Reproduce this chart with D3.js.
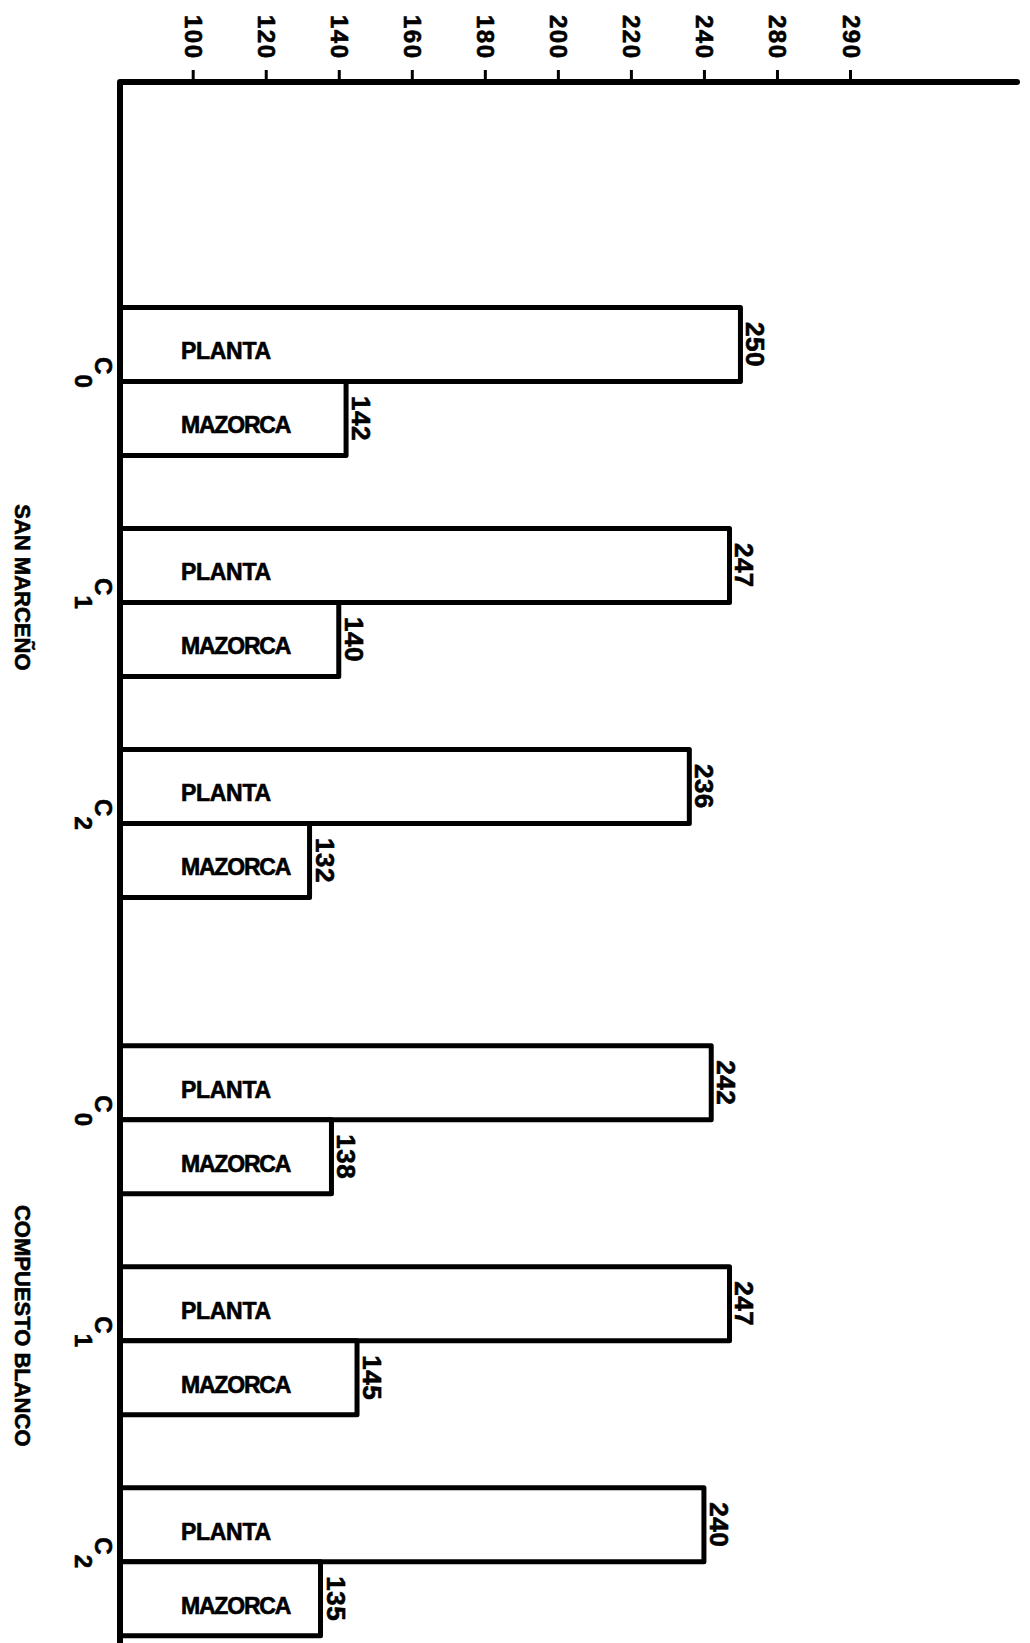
<!DOCTYPE html>
<html>
<head>
<meta charset="utf-8">
<script src="https://cdn.jsdelivr.net/npm/d3@7/dist/d3.min.js"></script>
<style>
  html, body { margin: 0; padding: 0; background: #fff; }
  svg { display: block; }
  text { font-family: "Liberation Sans", Arial, sans-serif; font-weight: bold; fill: #000; stroke: #000; stroke-width: 0.6px; }
</style>
</head>
<body>
<svg id="chart" width="1030" height="1643"></svg>
<script>
// ---- data ----
const groups = ["SAN MARCEÑO", "COMPUESTO BLANCO"];
const levels = ["0", "1", "2"];              // C0, C1, C2
const series = ["PLANTA", "MAZORCA"];
const plantaValues  = [250, 247, 236, 242, 247, 240];
const mazorcaValues = [142, 140, 132, 138, 145, 135];
const tickValues = [100, 120, 140, 160, 180, 200, 220, 240, 260, 280];
const tickLabels = ["100", "120", "140", "160", "180", "200", "220", "240", "280", "290"];

// ---- layout ----
const W = 1030, H = 1643;
const axisY = 82, axisX = 120;
const svg = d3.select("#chart");

const x = d3.scaleLinear().domain([100, 280]).range([192.7, 850]);
const xBase = x(80);  // axis origin

const gScale = d3.scaleBand().domain(groups).range([270.9, 1672.2]).paddingInner(0.102).paddingOuter(0);
const lScale = d3.scaleBand().domain(levels).range([0, gScale.bandwidth()]);
const sScale = d3.scaleBand().domain(series).range([0, lScale.bandwidth()]).paddingInner(0).paddingOuter(0.493);

const rows = [];
groups.forEach((g, gi) => {
  levels.forEach((l, li) => {
    const idx = gi * levels.length + li;
    rows.push({group: g, level: l, series: "PLANTA", value: plantaValues[idx]});
    rows.push({group: g, level: l, series: "MAZORCA", value: mazorcaValues[idx]});
  });
});
const yOf = d => gScale(d.group) + lScale(d.level) + sScale(d.series);

// ---- bars ----
const bars = svg.append("g");
bars.selectAll("rect").data(rows).enter().append("rect")
  .attr("x", xBase)
  .attr("y", d => yOf(d))
  .attr("width", d => x(d.value) - xBase)
  .attr("height", sScale.bandwidth())
  .attr("fill", "#fff")
  .attr("stroke", "#000")
  .attr("stroke-width", 5)
  .attr("stroke-linejoin", "round");

// series names inside bars
bars.selectAll("text.sname").data(rows).enter().append("text")
  .attr("class", "sname")
  .attr("x", 181)
  .attr("y", d => yOf(d) + sScale.bandwidth() / 2 + 15)
  .attr("font-size", 23)
  .attr("letter-spacing", d => d.series === "MAZORCA" ? -1.2 : -0.3)
  .text(d => d.series);

// value labels (rotated)
bars.selectAll("text.val").data(rows).enter().append("text")
  .attr("class", "val")
  .attr("transform", d => `translate(${x(d.value) + 6},${yOf(d) + sScale.bandwidth() / 2}) rotate(90)`)
  .attr("text-anchor", "middle")
  .attr("font-size", 26)
  .attr("letter-spacing", 0.5)
  .text(d => d.value);

// level labels C0..C2
const lvl = svg.append("g");
groups.forEach(g => {
  levels.forEach(l => {
    const cy = gScale(g) + lScale(l) + lScale.bandwidth() / 2 - 9;
    const t = lvl.append("text")
      .attr("transform", `translate(95,${cy}) rotate(90)`)
      .attr("text-anchor", "middle")
      .attr("font-size", 24);
    t.append("tspan").text("C");
    t.append("tspan").attr("dy", 20).text(l);
  });
});

// group labels
svg.append("g").selectAll("text").data(groups).enter().append("text")
  .attr("transform", d => `translate(15,${gScale(d) + gScale.bandwidth() / 2 - 15}) rotate(90)`)
  .attr("text-anchor", "middle")
  .attr("font-size", 22)
  .text(d => d);

// ---- axes ----
const axis = d3.axisTop(x).tickValues(tickValues).tickSize(12)
  .tickFormat((d, i) => tickLabels[i]);
const ax = svg.append("g").attr("transform", `translate(0,${axisY})`).call(axis);
ax.select(".domain").remove();
ax.selectAll(".tick line").attr("stroke", "#000").attr("stroke-width", 3);
ax.selectAll(".tick text")
  .attr("transform", "translate(-8,-67) rotate(90)")
  .attr("x", 0).attr("y", 0).attr("dy", 0)
  .attr("text-anchor", "start")
  .attr("font-size", 24)
  .attr("letter-spacing", 1.5)
  .attr("font-family", "\"Liberation Sans\", Arial, sans-serif")
  .attr("font-weight", "bold")
  .attr("fill", "#000");

// axis lines
svg.append("path")
  .attr("d", `M${axisX},${H} L${axisX},${axisY} L1017,${axisY}`)
  .attr("fill", "none")
  .attr("stroke", "#000")
  .attr("stroke-width", 6)
  .attr("stroke-linecap", "round")
  .attr("stroke-linejoin", "round");
</script>
</body>
</html>
